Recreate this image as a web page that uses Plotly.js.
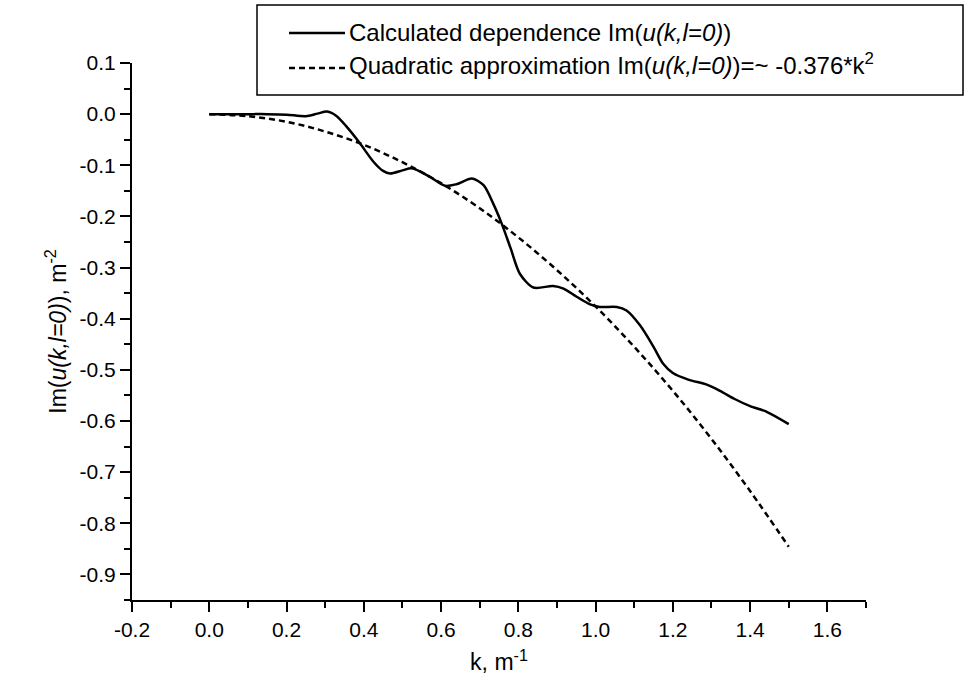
<!DOCTYPE html>
<html>
<head>
<meta charset="utf-8">
<script src="https://cdn.plot.ly/plotly-3.0.1.min.js"></script>
<style>html,body{margin:0;padding:0;background:#fff;}#chart{width:967px;height:693px;}</style>
</head>
<body>
<div id="chart"></div>
<script>
// Calculated dependence Im(u(k,l=0))
const kCalc = [0.00, 0.05, 0.10, 0.15, 0.20, 0.25, 0.28, 0.305, 0.33, 0.356, 0.39, 0.425, 0.45, 0.468, 0.50, 0.524, 0.57, 0.61, 0.64, 0.68, 0.71, 0.735, 0.757, 0.78, 0.804, 0.839, 0.89, 0.917, 0.951, 0.986, 1.011, 1.055, 1.08, 1.115, 1.15, 1.175, 1.20, 1.24, 1.288, 1.322, 1.36, 1.40, 1.443, 1.50];
const imCalc = [0.000, 0.000, 0.000, 0.000, -0.001, -0.004, 0.001, 0.005, -0.004, -0.025, -0.057, -0.093, -0.111, -0.116, -0.110, -0.106, -0.122, -0.140, -0.137, -0.126, -0.139, -0.175, -0.214, -0.262, -0.312, -0.339, -0.336, -0.341, -0.357, -0.372, -0.377, -0.377, -0.384, -0.413, -0.455, -0.488, -0.506, -0.519, -0.529, -0.541, -0.557, -0.571, -0.582, -0.606];

// Quadratic approximation
const kQuad = [0.0, 0.1, 0.2, 0.3, 0.4, 0.5, 0.6, 0.7, 0.8, 0.9, 1.0, 1.1, 1.2, 1.3, 1.4, 1.5];
const imQuad = [0.000, -0.004, -0.015, -0.034, -0.060, -0.094, -0.135, -0.184, -0.241, -0.305, -0.376, -0.455, -0.541, -0.635, -0.737, -0.846];

const xTickVals = [-0.2, 0.0, 0.2, 0.4, 0.6, 0.8, 1.0, 1.2, 1.4, 1.6];
const xTickText = ['-0.2', '0.0', '0.2', '0.4', '0.6', '0.8', '1.0', '1.2', '1.4', '1.6'];
const yTickVals = [0.1, 0.0, -0.1, -0.2, -0.3, -0.4, -0.5, -0.6, -0.7, -0.8, -0.9];
const yTickText = ['0.1', '0.0', '-0.1', '-0.2', '-0.3', '-0.4', '-0.5', '-0.6', '-0.7', '-0.8', '-0.9'];

const seriesNames = ['Calculated dependence Im(<i>u(k,l=0)</i>)', 'Quadratic approximation Im(<i>u(k,l=0)</i>)=~ -0.376*k<sup>2</sup>'];

const W = 967, H = 693;
const M = {l: 132, r: 101, t: 63, b: 93};
const pw = W - M.l - M.r, ph = H - M.t - M.b;
const px = x => (x - M.l) / pw;
const py = y => (H - M.b - y) / ph;
const FONT = 'Liberation Sans, Arial, Helvetica, sans-serif';

const traces = [
  {x: kCalc, y: imCalc, mode: 'lines', name: seriesNames[0], line: {color: '#000', width: 2.5, shape: 'spline', smoothing: 0.8}, showlegend: false},
  {x: kQuad, y: imQuad, mode: 'lines', name: seriesNames[1], line: {color: '#000', width: 2.5, dash: '6px,4px', shape: 'spline'}, showlegend: false}
];

const axisCommon = {
  showgrid: false, zeroline: false, showline: true, linecolor: '#000', linewidth: 2,
  ticks: 'outside', ticklen: 10, tickwidth: 2, tickcolor: '#000',
  tickfont: {family: FONT, size: 21, color: '#000'}, tickmode: 'array'
};

const layout = {
  width: W, height: H,
  margin: M,
  paper_bgcolor: '#fff', plot_bgcolor: '#fff',
  font: {family: FONT, color: '#000'},
  xaxis: Object.assign({}, axisCommon, {
    range: [-0.2, 1.7], tickvals: xTickVals, ticktext: xTickText,
    minor: {tickmode: 'linear', tick0: 0, dtick: 0.1, ticks: 'outside', ticklen: 6, tickwidth: 2, tickcolor: '#000'},
    title: {text: 'k, m<sup>-1</sup>', font: {family: FONT, size: 23, color: '#000'}, standoff: 14}
  }),
  yaxis: Object.assign({}, axisCommon, {
    range: [-0.95, 0.1], tickvals: yTickVals, ticktext: yTickText,
    minor: {tickmode: 'linear', tick0: 0, dtick: 0.05, ticks: 'outside', ticklen: 6, tickwidth: 2, tickcolor: '#000'},
    title: {text: 'Im(<i>u(k,l=0)</i>), m<sup>-2</sup>', font: {family: FONT, size: 23, color: '#000'}, standoff: 7}
  }),
  shapes: [
    {type: 'rect', xref: 'paper', yref: 'paper', x0: px(257), x1: px(963), y0: py(95), y1: py(5), line: {color: '#000', width: 1.5}, fillcolor: '#fff'},
    {type: 'line', xref: 'paper', yref: 'paper', x0: px(289), x1: px(345), y0: py(33), y1: py(33), line: {color: '#000', width: 2.5}},
    {type: 'line', xref: 'paper', yref: 'paper', x0: px(289), x1: px(345), y0: py(68), y1: py(68), line: {color: '#000', width: 2.5, dash: '6px,4px'}}
  ],
  annotations: [
    {xref: 'paper', yref: 'paper', x: px(347), y: py(33), xanchor: 'left', yanchor: 'middle', showarrow: false, text: seriesNames[0], font: {family: FONT, size: 24, color: '#000'}},
    {xref: 'paper', yref: 'paper', x: px(347), y: py(64), xanchor: 'left', yanchor: 'middle', showarrow: false, text: seriesNames[1], font: {family: FONT, size: 24, color: '#000'}}
  ]
};

Plotly.newPlot('chart', traces, layout, {staticPlot: true, displayModeBar: false});
</script>
</body>
</html>
